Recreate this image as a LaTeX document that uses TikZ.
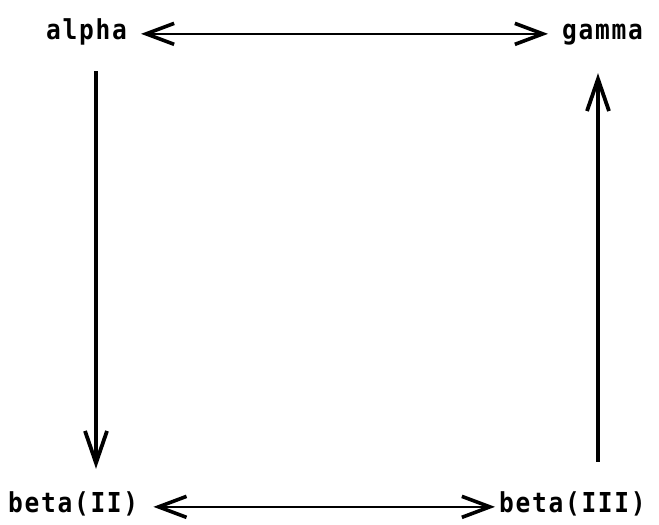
\documentclass[tikz,border=0pt]{standalone}
\usepackage{fontspec}
\usepackage{graphicx}
\newfontfamily\lgfont[LetterSpace=7,BoldFont={DejaVu Sans Mono Bold}]{DejaVu Sans Mono}
\usetikzlibrary{arrows.meta,calc}
\newcommand{\tall}[1]{\scalebox{1}[1.12]{#1}}
\begin{document}
\begin{tikzpicture}[x=1pt,y=-1pt,
  lbl/.style={inner sep=0pt,anchor=base west,font=\lgfont\bfseries\fontsize{24.5}{28}\selectfont,text height=18pt,text depth=5pt},
  hb/.style={Straight Barb[length=28pt,width=21pt,line width'=3.6pt]},
  harr/.style={line width=2.3pt,{Straight Barb[length=28pt,width=21pt,line width'=3.6pt]}-{Straight Barb[length=28pt,width=21pt,line width'=3.6pt]}},
  varr/.style={line width=3.1pt,-{Straight Barb[length=32pt,width=22pt,line width'=3.8pt]}}]
\useasboundingbox (0,0) rectangle (659,525);
\node[lbl] (alpha) at (46,39) {\tall{alpha}};
\node[lbl] (gamma) at (562,39) {\tall{gamma}};
\node[lbl] (betaII) at (8,512) {\tall{beta(II)}};
\node[lbl] (betaIII) at (499,512) {\tall{beta(III)}};
\coordinate (xl) at (96,0);
\coordinate (xr) at (598,0);
\draw[harr,shorten <=14pt,shorten >=14pt] ([yshift=3pt]alpha.mid east) -- ([yshift=3pt]gamma.mid west);
\draw[harr,shorten <=15pt,shorten >=4pt] ([yshift=3pt]betaII.mid east) -- ([yshift=3pt]betaIII.mid west);
\draw[varr,shorten <=27pt,shorten >=25pt] (alpha.south -| xl) -- (betaII.north -| xl);
\draw[varr,shorten <=32pt,shorten >=29pt] (betaIII.north -| xr) -- (gamma.south -| xr);
\end{tikzpicture}
\end{document}
